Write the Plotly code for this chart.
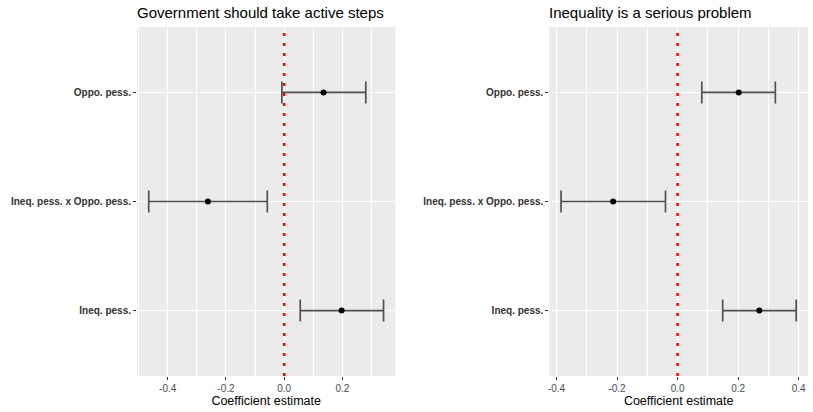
import plotly.graph_objects as go
from plotly.subplots import make_subplots

# ---- data ----
terms = ["Oppo. pess.", "Ineq. pess. x Oppo. pess.", "Ineq. pess."]
category_order = ["Ineq. pess.", "Ineq. pess. x Oppo. pess.", "Oppo. pess."]

gov_est = [0.135, -0.262, 0.197]
gov_low = [-0.008, -0.465, 0.055]
gov_high = [0.280, -0.058, 0.341]

ineq_est = [0.202, -0.213, 0.270]
ineq_low = [0.080, -0.385, 0.149]
ineq_high = [0.323, -0.040, 0.392]

panel_titles = ["Government should take active steps", "Inequality is a serious problem"]
x_title = "Coefficient estimate"

left_tickvals = [-0.4, -0.2, 0.0, 0.2]
left_ticktext = ["-0.4", "-0.2", "0.0", "0.2"]
right_tickvals = [-0.4, -0.2, 0.0, 0.2, 0.4]
right_ticktext = ["-0.4", "-0.2", "0.0", "0.2", "0.4"]

FONT = "Liberation Sans, Arial, Helvetica, sans-serif"
PANEL_BG = "#EBEBEB"
TEXT_GRAY = "#4D4D4D"

W, H = 813, 412
ML, MR, MT, MB = 136.7, 813 - 807.7, 26.7, 412 - 376.0
PW = W - ML - MR
PH = H - MT - MB


def px_x(px):  # page pixel -> paper fraction
    return (px - ML) / PW


def px_y(py):
    return (H - MB - py) / PH


fig = make_subplots(rows=1, cols=2)


def add_panel(col, est, low, high):
    plus = [h - e for h, e in zip(high, est)]
    minus = [e - l for e, l in zip(est, low)]
    fig.add_trace(
        go.Scatter(
            x=est,
            y=terms,
            mode="markers",
            marker=dict(color="black", size=6),
            error_x=dict(
                type="data",
                symmetric=False,
                array=plus,
                arrayminus=minus,
                color="#505050",
                thickness=1.7,
                width=11,
            ),
            showlegend=False,
            hoverinfo="x+y",
        ),
        row=1,
        col=col,
    )


add_panel(1, gov_est, gov_low, gov_high)
add_panel(2, ineq_est, ineq_low, ineq_high)


def xrange(low, high):
    lo, hi = min(low), max(high)
    pad = (hi - lo) * 0.05
    return [lo - pad, hi + pad]


common_x = dict(
    automargin=False,
    showgrid=True,
    gridcolor="white",
    gridwidth=1.1,
    zeroline=False,
    showline=False,
    ticks="outside",
    ticklen=3,
    tickwidth=1,
    tickcolor="#333333",
    tickfont=dict(family=FONT, size=10, color=TEXT_GRAY),
    title=dict(text=x_title, font=dict(family=FONT, size=12.5, color="black"), standoff=3),
    minor=dict(dtick=0.1, tick0=0, showgrid=True, gridcolor="white", gridwidth=0.5, ticks=""),
)
common_y = dict(
    automargin=False,
    type="category",
    categoryorder="array",
    categoryarray=category_order,
    range=[-0.6, 2.6],
    showgrid=True,
    gridcolor="white",
    gridwidth=1.1,
    zeroline=False,
    showline=False,
    ticks="outside",
    ticklen=3,
    tickwidth=1,
    tickcolor="#333333",
    tickfont=dict(family=FONT, size=10, color="#333333", weight="bold"),
)

fig.update_xaxes(
    **common_x, domain=[px_x(136.7), px_x(395)], range=xrange(gov_low, gov_high),
    tickvals=left_tickvals, ticktext=left_ticktext, row=1, col=1,
)
fig.update_xaxes(
    **common_x, domain=[px_x(549), px_x(807.7)], range=xrange(ineq_low, ineq_high),
    tickvals=right_tickvals, ticktext=right_ticktext, row=1, col=2,
)
fig.update_yaxes(**common_y, domain=[0, 1], row=1, col=1)
fig.update_yaxes(**common_y, domain=[0, 1], row=1, col=2)

# red dotted reference line at zero
for xr, yr in [("x", "y domain"), ("x2", "y2 domain")]:
    fig.add_shape(
        type="line", xref=xr, yref=yr, x0=0, x1=0, y0=0, y1=1,
        line=dict(color="red", width=2.5, dash="3px,7px"), layer="above",
    )

# panel titles, left aligned to panels
for x0, t in [(px_x(136.7), panel_titles[0]), (px_x(549), panel_titles[1])]:
    fig.add_annotation(
        text=t, xref="paper", yref="paper", x=x0, y=px_y(12.5),
        xanchor="left", yanchor="middle", showarrow=False, xshift=-2,
        font=dict(family=FONT, size=15, color="black"),
    )

fig.update_layout(
    width=W,
    height=H,
    margin=dict(l=ML, r=MR, t=MT, b=MB, autoexpand=False),
    paper_bgcolor="white",
    plot_bgcolor=PANEL_BG,
    font=dict(family=FONT),
)

fig.write_html(
    "out.html",
    config={"displayModeBar": False},
    post_script="document.body.style.margin='0px';",
)
